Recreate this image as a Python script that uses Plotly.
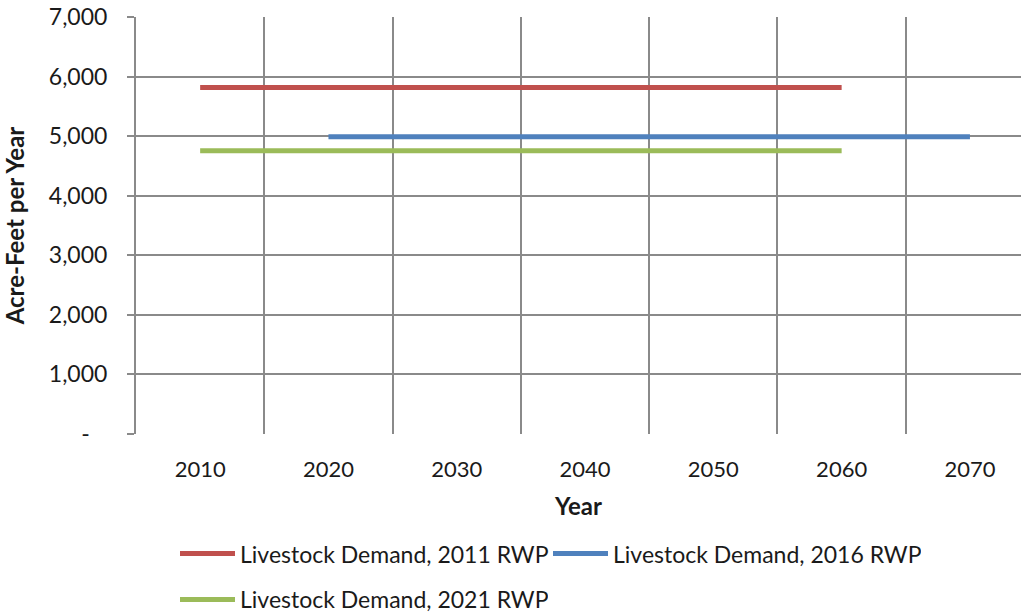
import plotly.graph_objects as go

# Livestock demand projections by planning cycle (acre-feet per year)
years = [2010, 2020, 2030, 2040, 2050, 2060, 2070]
rwp_2011_years = [2010, 2020, 2030, 2040, 2050, 2060]
rwp_2011 = [5815, 5815, 5815, 5815, 5815, 5815]
rwp_2016_years = [2020, 2030, 2040, 2050, 2060, 2070]
rwp_2016 = [4990, 4990, 4990, 4990, 4990, 4990]
rwp_2021_years = [2010, 2020, 2030, 2040, 2050, 2060]
rwp_2021 = [4755, 4755, 4755, 4755, 4755, 4755]

y_ticks = [0, 1000, 2000, 3000, 4000, 5000, 6000, 7000]
y_labels = ["-\u00a0\u00a0\u00a0", "1,000", "2,000", "3,000", "4,000", "5,000", "6,000", "7,000"]

FONT = "Lato"
GRID = "#8a8a8a"
TEXT = "#1a1a1a"

series = [
    ("Livestock Demand, 2011 RWP", rwp_2011_years, rwp_2011, "#C0504D", "legend"),
    ("Livestock Demand, 2016 RWP", rwp_2016_years, rwp_2016, "#4F81BD", "legend"),
    ("Livestock Demand, 2021 RWP", rwp_2021_years, rwp_2021, "#9BBB59", "legend2"),
]

fig = go.Figure()
for name, xs, ys, color, leg in series:
    fig.add_trace(go.Scatter(
        x=xs, y=ys, name=name, mode="lines",
        line=dict(color=color, width=5),
        legend=leg,
    ))

legend_common = dict(
    orientation="h", xref="container", yref="container",
    xanchor="left", yanchor="top",
    entrywidth=303, entrywidthmode="pixels",
    font=dict(family=FONT, size=23, color=TEXT),
    itemwidth=55, bgcolor="rgba(0,0,0,0)",
)

fig.update_layout(
    width=1021, height=613,
    margin=dict(l=136, r=0, t=17, b=179, autoexpand=False),
    paper_bgcolor="white", plot_bgcolor="white",
    font=dict(family=FONT, size=22, color=TEXT),
    showlegend=True,
    legend=dict(x=175 / 1021, y=0.132, **legend_common),
    legend2=dict(x=175 / 1021, y=0.057, **legend_common),
)

fig.update_xaxes(
    range=[2005, 2073.98],
    tickmode="array", tickvals=years, ticktext=[str(y) for y in years],
    showgrid=False, ticks="", ticklabelstandoff=20,
    tickfont=dict(family=FONT, size=22, color=TEXT),
    minor=dict(tickmode="linear", tick0=2005, dtick=10, showgrid=True,
               gridcolor=GRID, gridwidth=2, ticks=""),
    showline=False, zeroline=False,
    title=dict(text="<b>Year</b>", font=dict(family=FONT, size=24, color=TEXT), standoff=17),
)

fig.update_yaxes(
    range=[0, 7000],
    tickmode="array", tickvals=y_ticks, ticktext=y_labels,
    showgrid=True, gridcolor=GRID, gridwidth=2,
    ticks="outside", ticklen=7, tickcolor=GRID, tickwidth=2,
    ticklabelstandoff=15,
    tickfont=dict(family=FONT, size=23, color=TEXT),
    showline=True, linecolor=GRID, linewidth=2,
    zeroline=False,
    title=dict(text="<b>Acre-Feet per Year</b>", font=dict(family=FONT, size=24, color=TEXT), standoff=17),
)

fig.write_html("out.html")
